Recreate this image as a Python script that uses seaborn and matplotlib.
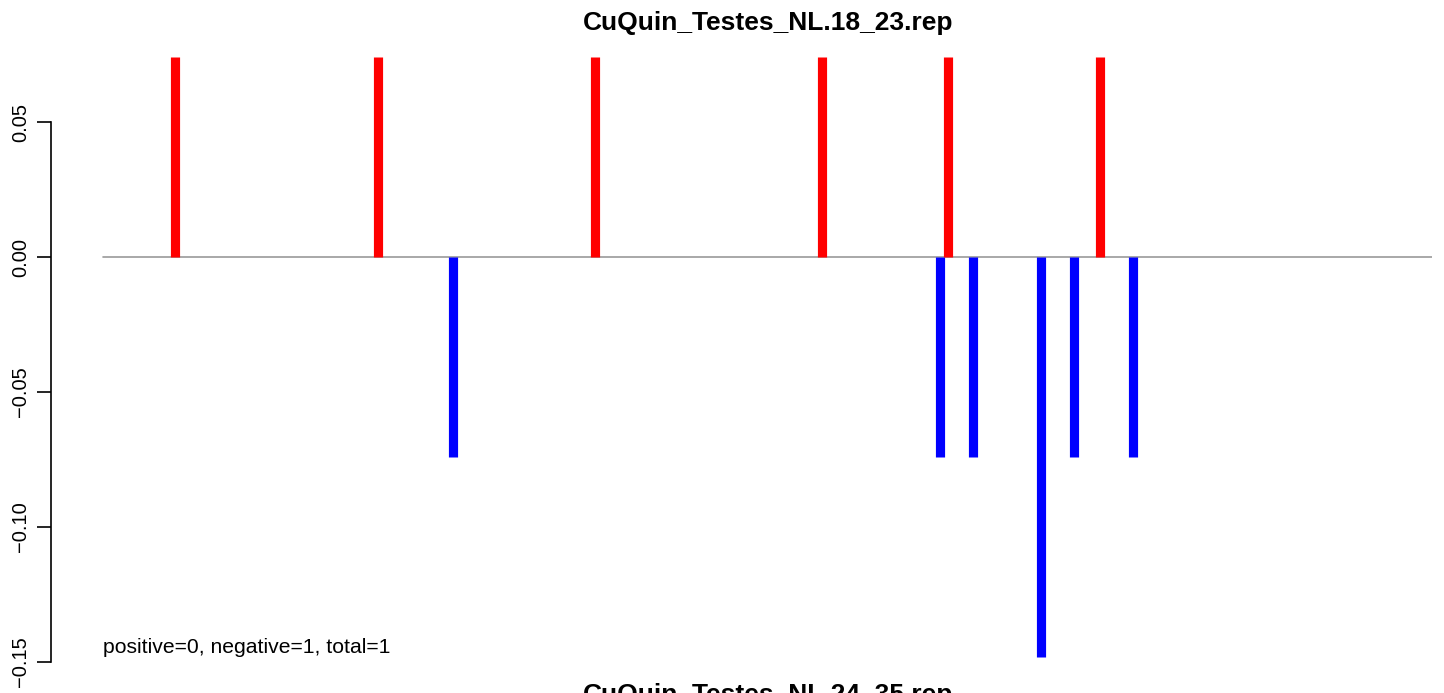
import numpy as np
import pandas as pd
import matplotlib
matplotlib.use("Agg")
import matplotlib.pyplot as plt
import seaborn as sns

# positions along the region (0-100 scale) and effect values
pos_x = [5.4, 20.7, 37.0, 54.1, 63.6, 75.0]
pos_y = [0.074, 0.074, 0.074, 0.074, 0.074, 0.074]
neg_x = [26.3, 63.0, 65.5, 70.6, 73.1, 77.5]
neg_y = [-0.074, -0.074, -0.074, -0.148, -0.074, -0.074]
yticks = [-0.15, -0.10, -0.05, 0.00, 0.05]
title_top = "CuQuin_Testes_NL.18_23.rep"
title_next = "CuQuin_Testes_NL.24_35.rep"
note = "positive=0, negative=1, total=1"

sns.set_theme(style="white")
plt.rcParams['font.family'] = ['Liberation Sans', 'DejaVu Sans']
plt.rcParams['text.color'] = 'black'
plt.rcParams['ytick.color'] = 'black'

fig = plt.figure(figsize=(14.44, 6.93), dpi=100)
ax = fig.add_axes([51 / 1444, 0.0, (1432 - 51) / 1444, 1.0])

zero = pd.DataFrame({"x": [0, 100], "y": [0, 0]})
sns.lineplot(data=zero, x="x", y="y", color="#9a9a9a", linewidth=1.2, ax=ax, zorder=1)

ax.vlines(neg_x, 0, neg_y, colors="blue", linewidth=6.6, capstyle="butt", zorder=2)
ax.vlines(pos_x, 0, pos_y, colors="red", linewidth=6.6, capstyle="butt", zorder=3)

ax.set_xlim(-3.91, 100)
ax.set_ylim(-0.1615, 0.0952)
ax.set_xlabel("")
ax.set_ylabel("")
ax.set_xticks([])
ax.set_yticks(yticks)
ax.set_yticklabels([f"{v:.2f}".replace("-", "\u2212") for v in yticks],
                   rotation=90, va="center", fontsize=14.5, color="black")
ax.tick_params(axis="y", direction="out", length=10, width=1.2, pad=5, left=True, colors="black")
for s in ["top", "right", "bottom"]:
    ax.spines[s].set_visible(False)
ax.spines["left"].set_bounds(-0.15, 0.05)
ax.spines["left"].set_color("black")
ax.spines["left"].set_linewidth(1.2)
ax.patch.set_alpha(0)

ax.text(0, -0.1445, note, fontsize=15.2, ha="left", va="center", color="black")

fig.text(768 / 1444, 1 - 23 / 693, title_top, ha="center", va="center",
         fontsize=19, fontweight="bold", color="black")
fig.text(768 / 1444, 1 - 695 / 693, title_next, ha="center", va="center",
         fontsize=19, fontweight="bold", color="black")

fig.savefig("out.png", dpi=100, facecolor="white")
